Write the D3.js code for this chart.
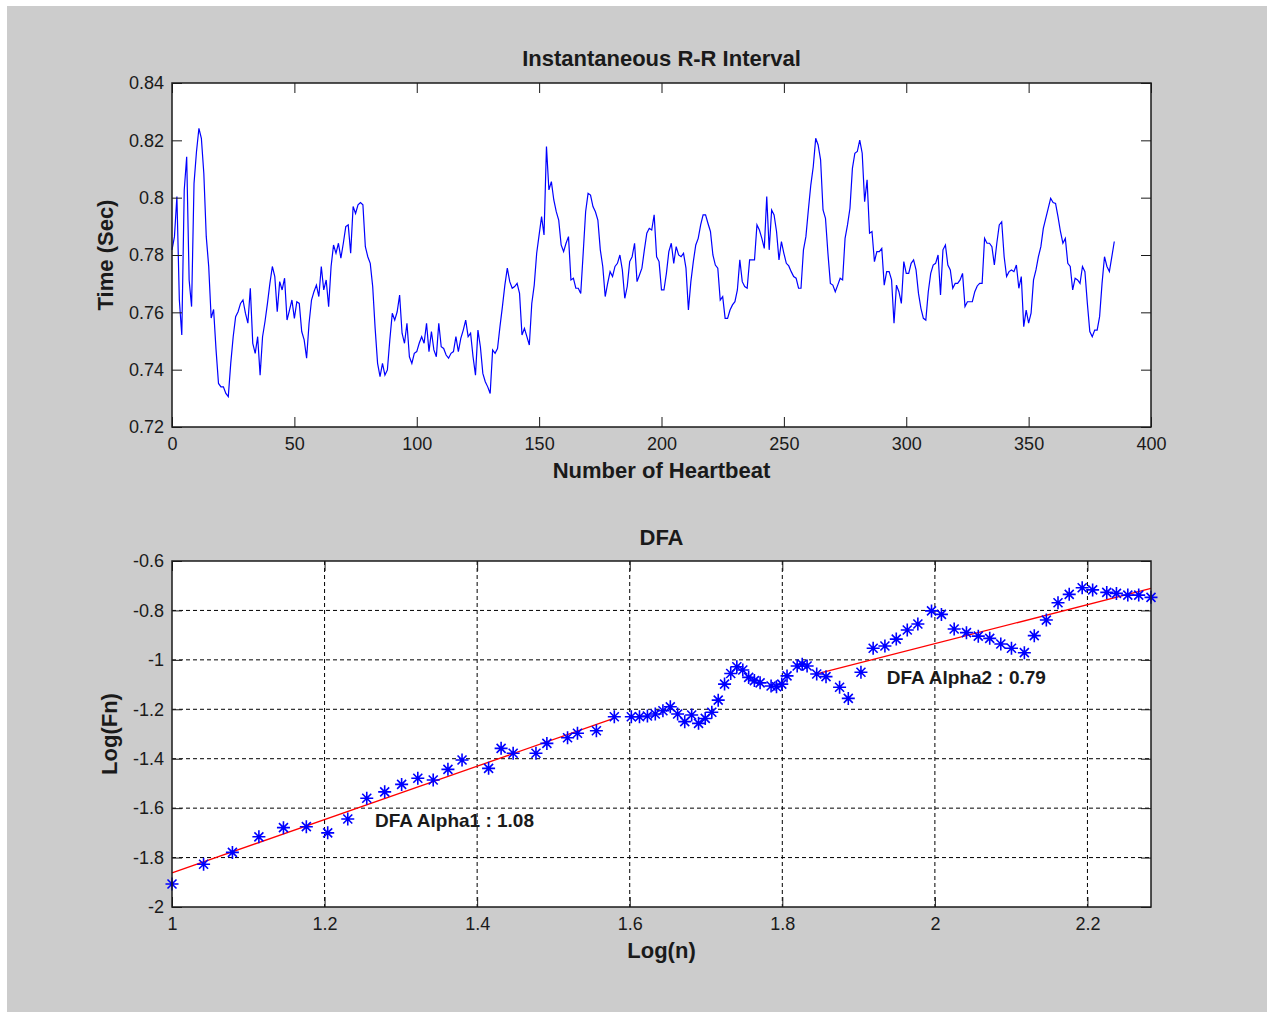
<!DOCTYPE html>
<html>
<head>
<meta charset="utf-8">
<script src="https://cdn.jsdelivr.net/npm/d3@7"></script>
<style>
    html, body { margin: 0; padding: 0; background: #fff; }
    svg { display: block; }
</style>
</head>
<body>
<div id="chart"></div>
<script>
// R-R interval series (seconds), one value per heartbeat, starting at beat 0
const rrInterval = [
    0.7818, 0.7864, 0.8004, 0.7643, 0.7521, 0.8027, 0.8143, 0.7713, 0.7620, 0.8050,
    0.8160, 0.8242, 0.8207, 0.8085, 0.7864, 0.7760, 0.7580, 0.7610, 0.7469, 0.7352,
    0.7340, 0.7340, 0.7317, 0.7306, 0.7422, 0.7515, 0.7585, 0.7602, 0.7631, 0.7643,
    0.7597, 0.7562, 0.7684, 0.7492, 0.7457, 0.7515, 0.7381, 0.7515, 0.7568, 0.7631,
    0.7701, 0.7760, 0.7725, 0.7602, 0.7707, 0.7678, 0.7719, 0.7573, 0.7608, 0.7643,
    0.7579, 0.7637, 0.7631, 0.7533, 0.7504, 0.7440, 0.7562, 0.7643, 0.7672, 0.7695,
    0.7655, 0.7760, 0.7678, 0.7713, 0.7620, 0.7760, 0.7835, 0.7806, 0.7841, 0.7789,
    0.7841, 0.7899, 0.7905, 0.7806, 0.7969, 0.7945, 0.7975, 0.7983, 0.7975, 0.7829,
    0.7794, 0.7771, 0.7690, 0.7544, 0.7422, 0.7376, 0.7422, 0.7381, 0.7399, 0.7504,
    0.7597, 0.7573, 0.7602, 0.7660, 0.7527, 0.7492, 0.7562, 0.7445, 0.7422, 0.7457,
    0.7463, 0.7492, 0.7515, 0.7492, 0.7562, 0.7463, 0.7533, 0.7469, 0.7445, 0.7562,
    0.7480, 0.7474, 0.7451, 0.7440, 0.7457, 0.7463, 0.7515, 0.7463, 0.7509, 0.7538,
    0.7573, 0.7515, 0.7527, 0.7445, 0.7381, 0.7538, 0.7480, 0.7387, 0.7358, 0.7340,
    0.7317, 0.7469, 0.7457, 0.7474, 0.7550, 0.7620, 0.7695, 0.7754, 0.7707, 0.7684,
    0.7690, 0.7701, 0.7666, 0.7521, 0.7544, 0.7515, 0.7486, 0.7631, 0.7695, 0.7806,
    0.7870, 0.7934, 0.7870, 0.8178, 0.8027, 0.8056, 0.7992, 0.7951, 0.7922, 0.7835,
    0.7812, 0.7841, 0.7864, 0.7713, 0.7719, 0.7684, 0.7684, 0.7666, 0.7806, 0.7951,
    0.8015, 0.8009, 0.7969, 0.7951, 0.7922, 0.7818, 0.7760, 0.7655, 0.7701, 0.7742,
    0.7725, 0.7760, 0.7771, 0.7800, 0.7748, 0.7649, 0.7690, 0.7777, 0.7794, 0.7841,
    0.7707, 0.7730, 0.7754, 0.7818, 0.7876, 0.7893, 0.7887, 0.7940, 0.7794, 0.7777,
    0.7678, 0.7678, 0.7736, 0.7812, 0.7841, 0.7771, 0.7829, 0.7800, 0.7794, 0.7806,
    0.7754, 0.7608, 0.7707, 0.7777, 0.7835, 0.7858, 0.7905, 0.7940, 0.7940, 0.7910,
    0.7882, 0.7800, 0.7765, 0.7754, 0.7643, 0.7655, 0.7579, 0.7579, 0.7608, 0.7626,
    0.7637, 0.7678, 0.7783, 0.7707, 0.7690, 0.7684, 0.7783, 0.7783, 0.7783, 0.7905,
    0.7887, 0.7858, 0.7823, 0.8004, 0.7818, 0.7957, 0.7940, 0.7882, 0.7783, 0.7847,
    0.7806, 0.7771, 0.7762, 0.7742, 0.7725, 0.7719, 0.7684, 0.7684, 0.7818, 0.7864,
    0.7957, 0.8044, 0.8108, 0.8207, 0.8184, 0.8132, 0.7957, 0.7928, 0.7806, 0.7701,
    0.7695, 0.7672, 0.7695, 0.7719, 0.7713, 0.7858, 0.7905, 0.7963, 0.8102, 0.8155,
    0.8161, 0.8201, 0.8155, 0.7986, 0.8062, 0.7876, 0.7882, 0.7777, 0.7812, 0.7812,
    0.7823, 0.7695, 0.7742, 0.7742, 0.7713, 0.7562, 0.7695, 0.7672, 0.7631, 0.7777,
    0.7736, 0.7736, 0.7771, 0.7783, 0.7748, 0.7666, 0.7614, 0.7579, 0.7573, 0.7672,
    0.7736, 0.7765, 0.7771, 0.7800, 0.7661, 0.7818, 0.7835, 0.7765, 0.7748, 0.7684,
    0.7701, 0.7701, 0.7713, 0.7736, 0.7620, 0.7637, 0.7637, 0.7637, 0.7672, 0.7692,
    0.7701, 0.7701, 0.7858, 0.7841, 0.7841, 0.7829, 0.7765, 0.7841, 0.7905, 0.7916,
    0.7794, 0.7725, 0.7742, 0.7748, 0.7742, 0.7765, 0.7684, 0.7725, 0.7550, 0.7608,
    0.7562, 0.7597, 0.7713, 0.7748, 0.7794, 0.7829, 0.7893, 0.7928, 0.7963, 0.7998,
    0.7983, 0.7980, 0.7934, 0.7882, 0.7841, 0.7858, 0.7771, 0.7760, 0.7678, 0.7719,
    0.7713, 0.7701, 0.7760, 0.7742, 0.7631, 0.7533, 0.7515, 0.7538, 0.7538, 0.7585,
    0.7701, 0.7794, 0.7760, 0.7742, 0.7794, 0.7847
];

// DFA fluctuation points: log10 of box size n and log10 of F(n)
const dfaLogN = [
    1.0000, 1.0414, 1.0792, 1.1139, 1.1461, 1.1761, 1.2041, 1.2304, 1.2553, 1.2788,
    1.3010, 1.3222, 1.3424, 1.3617, 1.3802, 1.4150, 1.4314, 1.4472, 1.4771, 1.4914,
    1.5185, 1.5315, 1.5563, 1.5798, 1.6021, 1.6128, 1.6232, 1.6335, 1.6435, 1.6532,
    1.6628, 1.6721, 1.6812, 1.6902, 1.6990, 1.7076, 1.7160, 1.7243, 1.7324, 1.7404,
    1.7482, 1.7559, 1.7634, 1.7709, 1.7853, 1.7924, 1.7993, 1.8062, 1.8195, 1.8261,
    1.8325, 1.8451, 1.8573, 1.8751, 1.8865, 1.9031, 1.9191, 1.9345, 1.9494, 1.9638,
    1.9777, 1.9956, 2.0086, 2.0253, 2.0414, 2.0569, 2.0719, 2.0864, 2.1004, 2.1173,
    2.1303, 2.1461, 2.1614, 2.1761, 2.1931, 2.2068, 2.2253, 2.2380, 2.2529, 2.2672,
    2.2833
];
const dfaLogF = [
    -1.907, -1.827, -1.779, -1.716, -1.679, -1.675, -1.700, -1.644, -1.560, -1.534,
    -1.504, -1.479, -1.486, -1.443, -1.405, -1.439, -1.358, -1.378, -1.378, -1.338,
    -1.315, -1.297, -1.287, -1.230, -1.230, -1.230, -1.227, -1.219, -1.206, -1.190,
    -1.219, -1.250, -1.223, -1.257, -1.237, -1.212, -1.163, -1.098, -1.055, -1.028,
    -1.041, -1.071, -1.084, -1.093, -1.106, -1.109, -1.098, -1.065, -1.025, -1.018,
    -1.025, -1.057, -1.068, -1.111, -1.156, -1.050, -0.953, -0.944, -0.916, -0.879,
    -0.855, -0.802, -0.816, -0.875, -0.890, -0.904, -0.913, -0.936, -0.953, -0.971,
    -0.902, -0.839, -0.769, -0.735, -0.708, -0.717, -0.727, -0.731, -0.738, -0.738,
    -0.747
];

// Fitted lines (endpoints in data units) and their labels
const alpha1Fit = [[1.0, -1.862], [1.58, -1.236]];
const alpha2Fit = [[1.845, -1.057], [2.2833, -0.711]];
const fitLabels = [
    { text: 'DFA Alpha1 : 1.08', x: 1.266, y: -1.675 },
    { text: 'DFA Alpha2 : 0.79', x: 1.937, y: -1.097 }
];

// Axis ticks
const rrXTicks = [0, 50, 100, 150, 200, 250, 300, 350, 400];
const rrYTicks = [0.72, 0.74, 0.76, 0.78, 0.80, 0.82, 0.84];
const dfaXTicks = [1, 1.2, 1.4, 1.6, 1.8, 2, 2.2];
const dfaYTicks = [-2, -1.8, -1.6, -1.4, -1.2, -1, -0.8, -0.6];

(() => {
    const width = 1267;
    const height = 1012;
    const font = '"Liberation Sans", Arial, Helvetica, sans-serif';
    const ink = '#1a1a1a';
    const tickLen = 10;

    const svg = d3.select('#chart')
        .append('svg')
        .attr('width', width)
        .attr('height', height);

    // figure background
    svg.append('rect')
        .attr('x', 7).attr('y', 6)
        .attr('width', width - 7).attr('height', height - 6)
        .attr('fill', '#cccccc');

    const fmt = d => String(+d.toFixed(2));

    // draws a MATLAB style box with inward ticks on all four sides
    function drawFrame(g, x, y, w, h, xTicks, yTicks, grid) {
        g.append('rect')
            .attr('width', w).attr('height', h)
            .attr('fill', '#fff');

        if (grid) {
            const gridG = g.append('g')
                .attr('stroke', '#000')
                .attr('stroke-width', 1)
                .attr('stroke-dasharray', '4,3');
            gridG.selectAll('line.gx')
                .data(xTicks.filter(t => x(t) > 1 && x(t) < w - 1))
                .enter().append('line')
                .attr('x1', d => x(d)).attr('x2', d => x(d))
                .attr('y1', 0).attr('y2', h);
            gridG.selectAll('line.gy')
                .data(yTicks.filter(t => y(t) > 1 && y(t) < h - 1))
                .enter().append('line')
                .attr('y1', d => y(d)).attr('y2', d => y(d))
                .attr('x1', 0).attr('x2', w);
        }
    }

    function drawAxes(g, x, y, w, h, xTicks, yTicks) {
        const styleAxis = sel => {
            sel.select('.domain').remove();
            sel.selectAll('line').attr('stroke', ink).attr('stroke-width', 1);
            sel.selectAll('text')
                .attr('fill', ink)
                .style('font-family', font)
                .style('font-size', '18px');
        };

        g.append('g')
            .attr('transform', `translate(0,${h})`)
            .call(d3.axisBottom(x).tickValues(xTicks).tickFormat(fmt)
                .tickSizeInner(-tickLen).tickSizeOuter(0).tickPadding(10))
            .call(styleAxis);
        g.append('g')
            .call(d3.axisTop(x).tickValues(xTicks).tickFormat('')
                .tickSizeInner(-tickLen).tickSizeOuter(0))
            .call(styleAxis);
        g.append('g')
            .call(d3.axisLeft(y).tickValues(yTicks).tickFormat(fmt)
                .tickSizeInner(-tickLen).tickSizeOuter(0).tickPadding(8))
            .call(styleAxis);
        g.append('g')
            .attr('transform', `translate(${w},0)`)
            .call(d3.axisRight(y).tickValues(yTicks).tickFormat('')
                .tickSizeInner(-tickLen).tickSizeOuter(0))
            .call(styleAxis);

        g.append('rect')
            .attr('width', w).attr('height', h)
            .attr('fill', 'none')
            .attr('stroke', ink)
            .attr('stroke-width', 1.5);
    }

    function addText(txt, x, y, size, rotate) {
        const t = svg.append('text')
            .attr('text-anchor', 'middle')
            .attr('fill', ink)
            .style('font-family', font)
            .style('font-weight', 'bold')
            .style('font-size', size + 'px')
            .text(txt);
        if (rotate) {
            t.attr('transform', `translate(${x},${y}) rotate(-90)`);
        } else {
            t.attr('x', x).attr('y', y);
        }
    }

    // ---- Top panel: instantaneous R-R interval ----
    const top = { left: 172, top: 83, w: 979, h: 344 };
    const x1 = d3.scaleLinear().domain([0, 400]).range([0, top.w]);
    const y1 = d3.scaleLinear().domain([0.72, 0.84]).range([top.h, 0]);
    const g1 = svg.append('g').attr('transform', `translate(${top.left},${top.top})`);

    drawFrame(g1, x1, y1, top.w, top.h, rrXTicks, rrYTicks, false);

    g1.append('path')
        .datum(rrInterval)
        .attr('fill', 'none')
        .attr('stroke', '#0000ff')
        .attr('stroke-width', 1.2)
        .attr('d', d3.line().x((d, i) => x1(i)).y(d => y1(d)));

    drawAxes(g1, x1, y1, top.w, top.h, rrXTicks, rrYTicks);

    addText('Instantaneous R-R Interval', top.left + top.w / 2, 66, 22);
    addText('Number of Heartbeat', top.left + top.w / 2, 478, 22);
    addText('Time (Sec)', 113, top.top + top.h / 2, 22, true);

    // ---- Bottom panel: DFA ----
    const bot = { left: 172, top: 561, w: 979, h: 346 };
    const x2 = d3.scaleLinear().domain([1, 2.2833]).range([0, bot.w]);
    const y2 = d3.scaleLinear().domain([-2, -0.6]).range([bot.h, 0]);
    const g2 = svg.append('g').attr('transform', `translate(${bot.left},${bot.top})`);

    drawFrame(g2, x2, y2, bot.w, bot.h, dfaXTicks, dfaYTicks, true);

    const fitLine = d3.line().x(d => x2(d[0])).y(d => y2(d[1]));
    [alpha1Fit, alpha2Fit].forEach(seg => {
        g2.append('path')
            .attr('d', fitLine(seg))
            .attr('fill', 'none')
            .attr('stroke', '#ff0000')
            .attr('stroke-width', 1.3);
    });

    // asterisk marker: plus with a shorter cross
    const star = 'M-6.5,0H6.5M0,-6.5V6.5M-4.5,-4.5L4.5,4.5M-4.5,4.5L4.5,-4.5';
    g2.selectAll('path.pt')
        .data(dfaLogN.map((v, i) => [v, dfaLogF[i]]))
        .enter().append('path')
        .attr('class', 'pt')
        .attr('transform', d => `translate(${x2(d[0])},${y2(d[1])})`)
        .attr('d', star)
        .attr('fill', 'none')
        .attr('stroke', '#0000ff')
        .attr('stroke-width', 1.6);

    g2.selectAll('text.lbl')
        .data(fitLabels)
        .enter().append('text')
        .attr('class', 'lbl')
        .attr('x', d => x2(d.x))
        .attr('y', d => y2(d.y))
        .attr('fill', ink)
        .style('font-family', font)
        .style('font-weight', 'bold')
        .style('font-size', '19px')
        .text(d => d.text);

    drawAxes(g2, x2, y2, bot.w, bot.h, dfaXTicks, dfaYTicks);

    addText('DFA', bot.left + bot.w / 2, 545, 22);
    addText('Log(n)', bot.left + bot.w / 2, 958, 22);
    addText('Log(Fn)', 117, bot.top + bot.h / 2, 22, true);
})();
</script>
</body>
</html>
